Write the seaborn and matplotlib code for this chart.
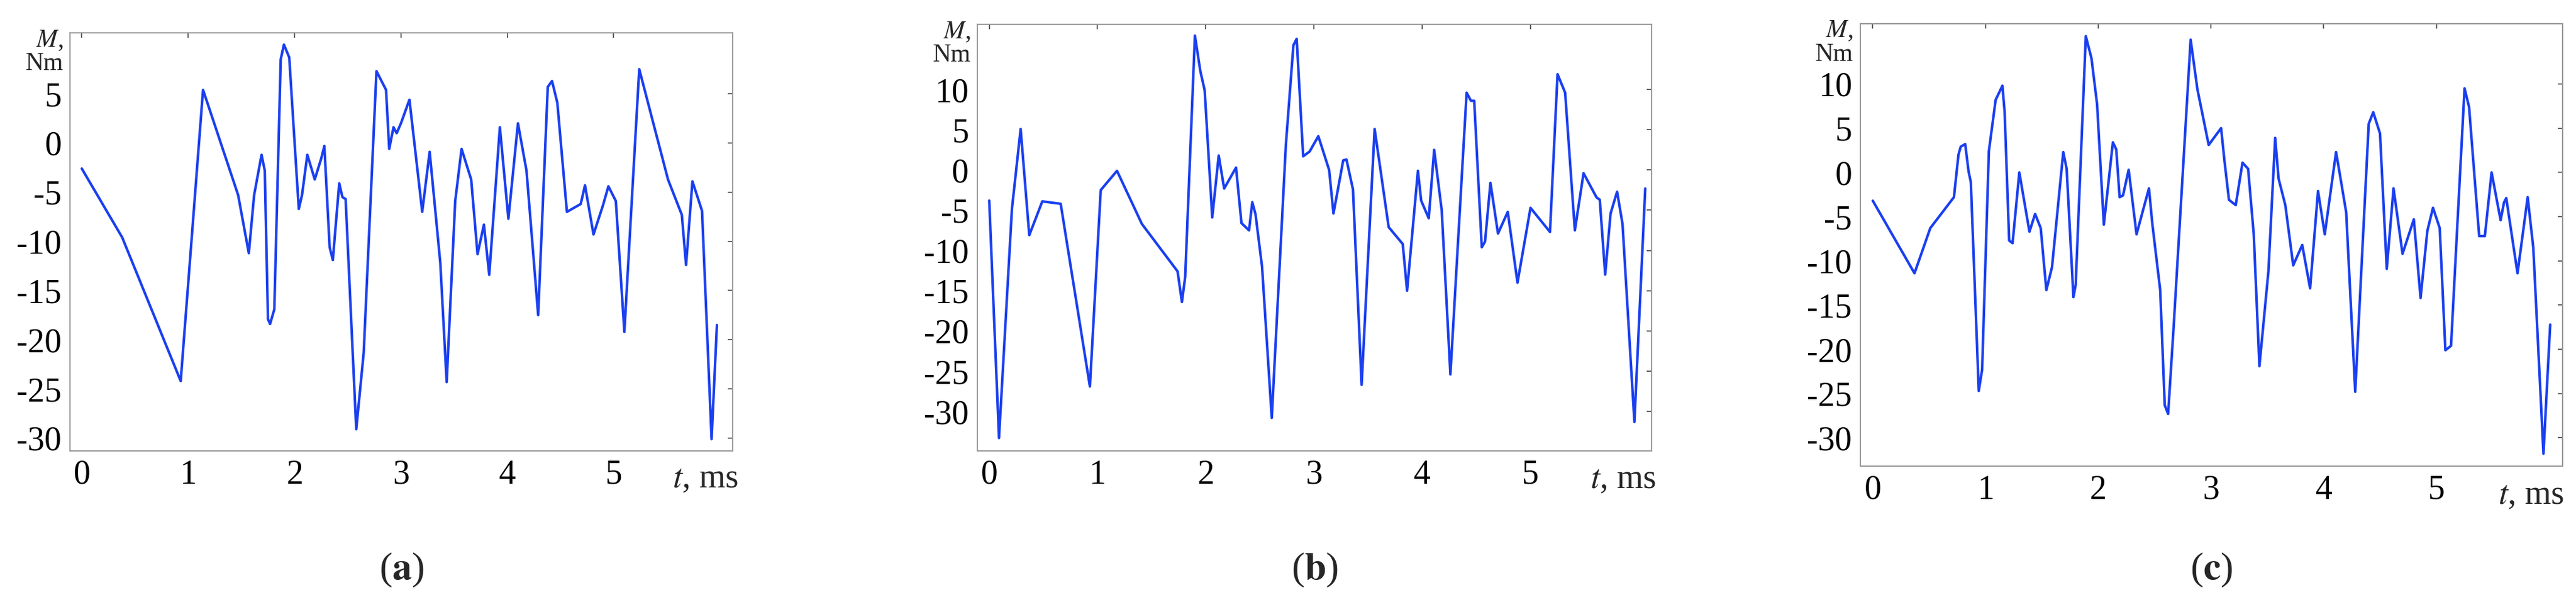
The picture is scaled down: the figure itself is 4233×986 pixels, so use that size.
import pandas as pd
import matplotlib.pyplot as plt
import seaborn as sns

# (a) torque vs time
t_a = [0, 0.38, 0.93, 1.14, 1.47, 1.57, 1.62, 1.69, 1.72, 1.75, 1.77, 1.81, 1.87, 1.90, 1.95,
       2.04, 2.07, 2.12, 2.19, 2.25, 2.28, 2.33, 2.36, 2.42, 2.45, 2.48, 2.58, 2.65, 2.77, 2.86,
       2.89, 2.93, 2.96, 3.0, 3.08, 3.20, 3.27, 3.37, 3.43, 3.51, 3.57, 3.66, 3.72, 3.78, 3.83,
       3.93, 4.01, 4.10, 4.18, 4.29, 4.38, 4.42, 4.47, 4.56, 4.69, 4.73, 4.81, 4.90, 4.95, 5.02,
       5.10, 5.24, 5.51, 5.64, 5.68, 5.74, 5.83, 5.92, 5.97]
m_a = [-2.6, -9.6, -24.2, 5.4, -5.3, -11.2, -5.3, -1.2, -2.8, -17.9, -18.4, -16.9, 8.5, 10.0, 8.7,
       -6.7, -5.3, -1.2, -3.7, -1.6, -0.3, -10.6, -11.9, -4.1, -5.5, -5.7, -29.1, -21.3, 7.3, 5.4,
       -0.6, 1.6, 1.0, 2.0, 4.4, -7.0, -0.9, -12.2, -24.3, -5.9, -0.6, -3.7, -11.3, -8.3, -13.4,
       1.6, -7.7, 2.0, -2.8, -17.5, 5.7, 6.3, 4.1, -7.0, -6.2, -4.3, -9.3, -6.3, -4.4, -5.9,
       -19.2, 7.5, -3.7, -7.3, -12.4, -3.9, -6.9, -30.1, -18.5]

# (b)
t_b = [0, 0.09, 0.21, 0.29, 0.37, 0.49, 0.66, 0.93, 1.03, 1.18, 1.41, 1.74, 1.78, 1.81, 1.90,
       1.95, 1.99, 2.06, 2.12, 2.17, 2.28, 2.33, 2.40, 2.43, 2.46, 2.52, 2.61, 2.74, 2.81, 2.84,
       2.90, 2.96, 3.04, 3.14, 3.18, 3.27, 3.30, 3.36, 3.44, 3.56, 3.69, 3.82, 3.86, 3.96, 3.99,
       4.06, 4.11, 4.18, 4.26, 4.41, 4.45, 4.48, 4.55, 4.58, 4.63, 4.70, 4.79, 4.88, 5.0, 5.18,
       5.25, 5.32, 5.41, 5.49, 5.61, 5.64, 5.69, 5.74, 5.80, 5.85, 5.96, 6.06]
m_b = [-3.8, -33.3, -4.8, 5.1, -8.1, -3.9, -4.2, -26.9, -2.5, -0.1, -6.7, -12.6, -16.4, -13.3, 16.7,
       12.3, 9.9, -5.9, 1.8, -2.3, 0.3, -6.6, -7.5, -4.0, -5.5, -12.0, -30.8, 3.1, 15.5, 16.3,
       1.7, 2.3, 4.2, 0.0, -5.4, 1.2, 1.3, -2.4, -26.7, 5.1, -7.1, -9.2, -15.0, -0.1, -3.8,
       -6.0, 2.5, -5.0, -25.4, 9.6, 8.6, 8.6, -9.6, -8.9, -1.6, -7.9, -5.2, -14.0, -4.7, -7.7,
       11.9, 9.6, -7.5, -0.4, -3.4, -3.7, -13.0, -5.4, -2.7, -6.7, -31.3, -2.3]

# (c)
t_c = [0, 0.37, 0.51, 0.72, 0.76, 0.78, 0.82, 0.85, 0.87, 0.94, 0.97, 1.03, 1.09, 1.15, 1.17,
       1.21, 1.24, 1.30, 1.39, 1.44, 1.49, 1.54, 1.59, 1.69, 1.72, 1.78, 1.80, 1.89, 1.94, 1.99,
       2.05, 2.13, 2.16, 2.19, 2.22, 2.27, 2.34, 2.45, 2.48, 2.55, 2.59, 2.62, 2.67, 2.82, 2.88,
       2.98, 3.09, 3.12, 3.16, 3.22, 3.28, 3.33, 3.38, 3.43, 3.51, 3.57, 3.60, 3.66, 3.73, 3.81,
       3.88, 3.95, 4.01, 4.11, 4.15, 4.20, 4.28, 4.40, 4.44, 4.50, 4.56, 4.62, 4.70, 4.80, 4.86,
       4.92, 4.97, 5.03, 5.08, 5.13, 5.25, 5.29, 5.38, 5.43, 5.49, 5.57, 5.60, 5.62, 5.72, 5.81,
       5.86, 5.95, 6.01]
m_c = [-3.2, -11.4, -6.3, -2.8, 2.0, 2.9, 3.2, 0.1, -1.1, -24.7, -22.3, 2.4, 8.2, 9.8, 6.8,
       -7.7, -8.0, 0.0, -6.7, -4.7, -6.3, -13.3, -10.7, 2.3, 0.4, -14.1, -12.7, 15.4, 12.9, 7.7,
       -5.9, 3.4, 2.6, -2.8, -2.6, 0.3, -7.0, -1.8, -5.8, -13.3, -26.3, -27.3, -17.3, 15.0, 9.4,
       3.1, 5.0, 1.3, -3.1, -3.7, 1.1, 0.4, -7.0, -21.9, -11.2, 3.9, -0.7, -3.7, -10.5, -8.2,
       -13.1, -2.1, -7.0, 2.3, -0.7, -4.5, -24.8, 5.5, 6.8, 4.4, -10.9, -1.8, -9.2, -5.3, -14.2,
       -6.6, -4.0, -6.3, -20.1, -19.6, 9.5, 7.4, -7.2, -7.2, 0.0, -5.4, -3.4, -2.9, -11.4, -2.8,
       -8.5, -31.8, -17.2]

panels = [
    ("a", t_a, m_a, [0.0272, 0.2485, 0.2573, 0.6968], (-31.3, 11.2), range(-30, 10, 5)),
    ("b", t_b, m_b, [0.3794, 0.2485, 0.2618, 0.7110], (-34.9, 18.1), range(-30, 15, 5)),
    ("c", t_c, m_c, [0.7222, 0.2231, 0.2726, 0.7373], (-33.2, 16.8), range(-30, 15, 5)),
]

sns.set_style("white")
plt.rcParams['font.family'] = ['Liberation Serif', 'DejaVu Serif']
plt.rcParams['mathtext.fontset'] = 'stix'
plt.rcParams['axes.unicode_minus'] = False

fig = plt.figure(figsize=(42.33, 9.86), dpi=100)

for letter, t, m, pos, ylim, yticks in panels:
    ax = fig.add_axes(pos)
    df = pd.DataFrame({"t": t, "M": m})
    sns.lineplot(data=df, x="t", y="M", ax=ax, sort=False, estimator=None,
                 color="#1a3ff0", linewidth=3)
    ax.set_xlim(-0.11, 6.12)
    ax.set_ylim(*ylim)
    ax.set_xticks(range(0, 6))
    ax.set_yticks(list(yticks))
    ax.tick_params(direction="in", top=True, right=True, length=6, width=1.2,
                   colors="#444444", labelcolor="black", labelsize=40, pad=10)
    for lab in ax.get_xticklabels() + ax.get_yticklabels():
        lab.set_family("Liberation Serif")
    for s in ax.spines.values():
        s.set_color("#999999")
        s.set_linewidth(1.5)
    ax.set_xlabel("")
    ax.set_ylabel("")
    # axis labels placed like the original
    ax.text(5.55, -0.03, "$t$, ms", transform=ax.get_xaxis_transform(), fontsize=40,
            ha="left", va="top")
    ax.text(-0.01, 1.01, "$M$,\nNm", transform=ax.transAxes, fontsize=30,
            ha="right", va="top", linespacing=1.0)
    fig.text(pos[0] + pos[2] / 2, 0.05, "(" + r"$\mathbf{" + letter + "}$" + ")",
             fontsize=46, ha="center", va="center")

fig.savefig("out.png", dpi=100)
